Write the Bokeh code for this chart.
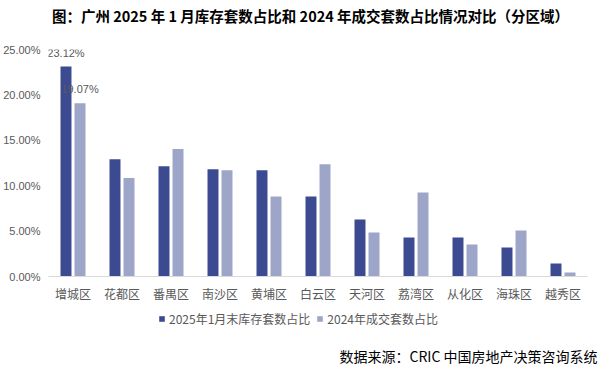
from bokeh.plotting import figure
from bokeh.layouts import column
from bokeh.models import ColumnDataSource, FactorRange, PrintfTickFormatter, Legend, LegendItem, Label, Title
from bokeh.transform import dodge
from bokeh.core.properties import value
from bokeh.embed import file_html
from bokeh.resources import INLINE

districts = ["增城区", "花都区", "番禺区", "南沙区", "黄埔区", "白云区", "天河区", "荔湾区", "从化区", "海珠区", "越秀区"]
stock_2025_jan = [23.12, 12.90, 12.13, 11.80, 11.70, 8.82, 6.28, 4.30, 4.30, 3.20, 1.43]
deals_2024 = [19.07, 10.84, 14.04, 11.69, 8.82, 12.35, 4.85, 9.26, 3.53, 5.07, 0.44]
series_names = ["2025年1月末库存套数占比", "2024年成交套数占比"]
title_text = "图：广州 2025 年 1 月库存套数占比和 2024 年成交套数占比情况对比（分区域）"
source_text = "数据来源：CRIC 中国房地产决策咨询系统"

DARK = "#3C4B91"
LIGHT = "#9DA6C9"
CJK = "Noto Sans CJK SC"
W = 602


def bare(fig):
    fig.outline_line_color = None
    fig.grid.visible = False
    return fig


src = ColumnDataSource(dict(cat=districts, a=stock_2025_jan, b=deals_2024))

# ---- header with title (frames of the column are aligned: frame starts at x=48) ----
head = bare(figure(width=W, height=30, x_range=(0, 1), y_range=(0, 1),
                   x_axis_location=None, y_axis_location=None, min_border=0,
                   output_backend="svg", toolbar_location=None))
head.add_layout(Label(x=262, y=15, x_units="screen", y_units="screen", text=title_text,
                      text_align="center", text_baseline="middle", text_font=CJK,
                      text_font_size="14.5px", text_font_style="bold", text_color="#000000"))

# ---- main chart ----
p = figure(width=W, height=275, x_range=FactorRange(*districts), y_range=(0, 25),
           output_backend="svg", toolbar_location=None,
           min_border_left=48, min_border_right=15, min_border_top=19, min_border_bottom=29)
p.outline_line_color = None
p.xgrid.grid_line_color = None
p.ygrid.grid_line_color = None

ra = p.vbar(x=dodge("cat", -0.143, range=p.x_range), top="a", width=0.224, source=src,
            fill_color=DARK, line_color=None)
rb = p.vbar(x=dodge("cat", 0.143, range=p.x_range), top="b", width=0.224, source=src,
            fill_color=LIGHT, line_color=None)

lab = ColumnDataSource(dict(cat=[districts[0]], a=[stock_2025_jan[0]], b=[deals_2024[0]],
                            ta=["%.2f%%" % stock_2025_jan[0]], tb=["%.2f%%" % deals_2024[0]]))
for col, off, txt in (("a", -0.143, "ta"), ("b", 0.143, "tb")):
    p.text(x=dodge("cat", off, range=p.x_range), y=col, text=txt, source=lab,
           text_align="center", text_baseline="bottom", y_offset=-8,
           text_font=value("Liberation Sans"), text_font_size="11px", text_color="#595959")

p.yaxis.ticker = [0, 5, 10, 15, 20, 25]
p.yaxis.formatter = PrintfTickFormatter(format="%.2f%%")
p.yaxis.axis_line_color = None
p.yaxis.major_tick_line_color = None
p.yaxis.minor_tick_line_color = None
p.yaxis.major_tick_out = 0
p.yaxis.minor_tick_out = 0
p.yaxis.major_label_text_font = "Liberation Sans"
p.yaxis.major_label_text_font_size = "11px"
p.yaxis.major_label_text_color = "#595959"
p.yaxis.major_label_standoff = 8

p.xaxis.axis_line_color = "#D9D9D9"
p.xaxis.major_tick_line_color = None
p.xaxis.minor_tick_line_color = None
p.xaxis.major_tick_out = 0
p.xaxis.minor_tick_out = 0
p.xaxis.major_label_text_font = CJK
p.xaxis.major_label_text_font_size = "12px"
p.xaxis.major_label_text_color = "#595959"
p.xaxis.major_label_standoff = 8

# ---- footer with legend and source ----
foot = bare(figure(width=W, height=66, x_range=FactorRange(*districts), y_range=(0, 25),
                   x_axis_location=None, y_axis_location=None,
                   min_border_left=0, min_border_right=0, min_border_top=0, min_border_bottom=30,
                   output_backend="svg", toolbar_location=None))
fa = foot.vbar(x="cat", top="a", width=0.2, source=src, fill_color=DARK, line_color=None, visible=False)
fb = foot.vbar(x="cat", top="b", width=0.2, source=src, fill_color=LIGHT, line_color=None, visible=False)
legend = Legend(items=[LegendItem(label=series_names[0], renderers=[fa]),
                       LegendItem(label=series_names[1], renderers=[fb])],
                orientation="horizontal", location=(110, 12),
                label_text_font=CJK, label_text_font_size="12px", label_text_color="#595959",
                glyph_width=7, glyph_height=7, label_standoff=4, spacing=6, label_height=14,
                inactive_fill_alpha=0, click_policy="none",
                padding=0, margin=0, border_line_color=None, background_fill_alpha=0)
foot.add_layout(legend, "center")
foot.add_layout(Title(text=source_text, align="right", offset=-10, standoff=10,
                      vertical_align="middle", text_font=CJK, text_font_size="14px",
                      text_font_style="normal", text_color="#000000"), "below")

layout = column(head, p, foot, spacing=0)
open("out.html", "w").write(file_html(layout, INLINE))
